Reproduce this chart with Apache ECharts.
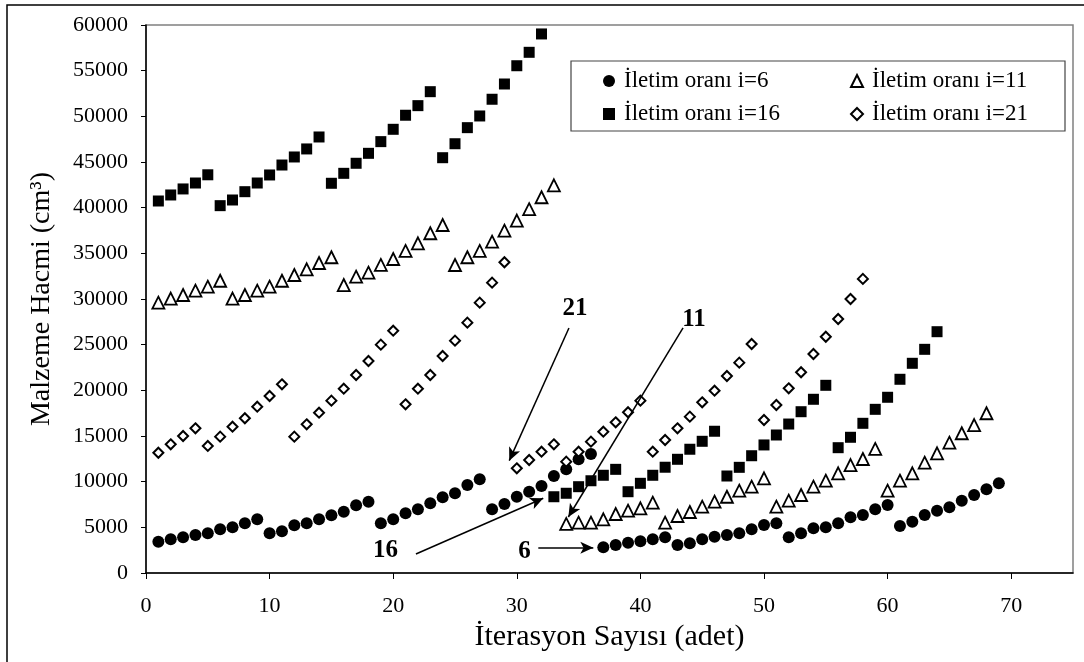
<!DOCTYPE html>
<html>
<head>
<meta charset="utf-8">
<script src="https://cdn.jsdelivr.net/npm/echarts@6/dist/echarts.min.js"></script>
<style>
  html, body { margin: 0; padding: 0; background: #fff; }
  #chart { width: 1084px; height: 662px; }
</style>
</head>
<body>
<div id="chart"></div>
<script>
// Malzeme hacmi (cm3) for each iteration step; iteration number = position in list + 1
const vol_i6 = [
  3430, 3690, 3910, 4160, 4350, 4780, 5000, 5440, 5880,
  4350, 4570, 5220, 5440, 5880, 6320, 6710, 7410, 7810,
  5440, 5880, 6540, 6970, 7630, 8290, 8730, 9640, 10260,
  6970, 7550, 8350, 8900, 9530, 10620, 11350, 12450, 13030,
  2810, 3070, 3320, 3470, 3690, 3910,
  3070, 3250, 3690, 3980, 4160, 4350, 4780, 5260, 5440,
  3910, 4350, 4890, 5000, 5440, 6100, 6350, 6970, 7450,
  5150, 5620, 6350, 6820, 7190, 7920, 8540, 9160, 9820
];
const vol_i11 = [
  29600, 30040, 30440, 30910, 31350, 32000,
  30040, 30440, 30910, 31350, 32000, 32630, 33250, 33940, 34570,
  31530, 32440, 32880, 33730, 34380, 35260, 36100, 37200, 38100,
  33720, 34570, 35260, 36280, 37480, 38580, 39830, 41140, 42450,
  5370, 5510, 5510, 5880, 6460, 6820, 7080, 7700,
  5510, 6240, 6680, 7260, 7810, 8350, 9010, 9450, 10370,
  7260, 7920, 8540, 9450, 10110, 10910, 11820, 12480, 13580,
  9010, 10110, 10910, 12080, 13100, 14270, 15300, 16200, 17490
];
const vol_i16 = [
  40730, 41390, 42050, 42700, 43600,
  40220, 40840, 41750, 42700, 43580, 44670, 45550, 46430, 47740,
  42670, 43760, 44860, 45950, 47230, 48580, 50120, 51170, 52700,
  45470, 47000, 48760, 50040, 51870, 53540, 55540, 57010, 59020,
  8350, 8730, 9450, 10100, 10700, 11350,
  8900, 9820, 10700, 11580, 12450, 13550, 14420, 15520,
  10620, 11570, 12840, 14020, 15110, 16310, 17660, 19020, 20550,
  13720, 14860, 16390, 17920, 19240, 21210, 22960, 24490, 26420
];
const vol_i21 = [
  13170, 14090, 15000, 15840,
  13910, 14930, 16020, 16940, 18210, 19380, 20660,
  14930, 16280, 17550, 18870, 20180, 21680, 23210, 25000, 26530,
  18470, 20180, 21680, 23760, 25440, 27410, 29600, 31790, 34020,
  11460, 12370, 13280, 14090,
  12190, 13280, 14380, 15470, 16500, 17600, 18870,
  13280, 14560, 15840, 17120, 18690, 19960, 21570, 23030, 25070,
  16750, 18390, 20220, 21980, 23980, 25870, 27810, 30000, 32200
];

const seriesNames = ['İletim oranı i=6', 'İletim oranı i=11', 'İletim oranı i=16', 'İletim oranı i=21'];
const xTicks = [0, 10, 20, 30, 40, 50, 60, 70];

// Callout labels: text position, arrow start, arrow tip (iteration, volume)
const callouts = [
  { text: '21', at: [34.7, 29000], from: [34.22, 26830], to: [29.39, 12300] },
  { text: '11', at: [44.34, 27700], from: [43.45, 26830], to: [34.17, 6130] },
  { text: '16', at: [19.38, 2410], from: [21.84, 2080], to: [32.14, 8180] },
  { text: '6', at: [30.62, 2350], from: [31.74, 2770], to: [36.19, 2770] }
];

const FONT = "'Liberation Serif', 'Times New Roman', serif";
const toPoints = arr => arr.map((v, i) => [i + 1, v]);

const chart = echarts.init(document.getElementById('chart'), null, { renderer: 'canvas' });

const legendText = { fontFamily: FONT, fontSize: 23, color: '#000', lineHeight: 24, padding: [0, 0, 0, 4] };

const option = {
  backgroundColor: '#fff',
  animation: false,
  textStyle: { fontFamily: FONT },
  grid: {
    left: 146, right: 11, top: 25, bottom: 89,
    show: true, borderColor: '#808080', borderWidth: 1.5
  },
  legend: [
    {
      left: 603, top: 69, orient: 'vertical', itemGap: 9, padding: 0,
      itemWidth: 12, itemHeight: 12,
      data: [seriesNames[0], seriesNames[2]],
      textStyle: legendText
    },
    {
      left: 850, top: 69, orient: 'vertical', itemGap: 9, padding: 0,
      itemWidth: 12, itemHeight: 12,
      data: [seriesNames[1], seriesNames[3]],
      textStyle: legendText
    }
  ],
  xAxis: {
    type: 'value', min: 0, max: 75,
    name: 'İterasyon Sayısı (adet)', nameLocation: 'middle', nameGap: 49,
    nameTextStyle: { fontFamily: FONT, fontSize: 30, color: '#000' },
    axisLine: { show: true, lineStyle: { color: '#000', width: 1.5 } },
    axisTick: { show: true, length: 6, inside: false, lineStyle: { color: '#000' }, customValues: xTicks },
    axisLabel: { fontFamily: FONT, fontSize: 22, color: '#000', margin: 22, customValues: xTicks },
    splitLine: { show: false }
  },
  yAxis: {
    type: 'value', min: 0, max: 60000, interval: 5000,
    name: 'Malzeme Hacmi (cm³)', nameLocation: 'middle', nameGap: 90,
    nameTextStyle: { fontFamily: FONT, fontSize: 28, color: '#000' },
    axisLine: { show: true, lineStyle: { color: '#000', width: 1.5 } },
    axisTick: { show: true, length: 5, inside: false, lineStyle: { color: '#000' } },
    axisLabel: { fontFamily: FONT, fontSize: 22, color: '#000', margin: 18, formatter: v => String(v) },
    splitLine: { show: false }
  },
  series: [
    {
      name: seriesNames[0], type: 'scatter', symbol: 'circle', symbolSize: 12,
      itemStyle: { color: '#000', opacity: 1 },
      data: toPoints(vol_i6),
      markLine: {
        silent: true, symbol: ['none', 'arrow'], symbolSize: [9, 13],
        label: { show: false },
        lineStyle: { color: '#000', width: 1.5, type: 'solid' },
        data: callouts.map(c => [{ coord: c.from }, { coord: c.to }])
      }
    },
    {
      name: seriesNames[1], type: 'scatter', symbol: 'triangle', symbolSize: 12,
      itemStyle: { color: '#fff', borderColor: '#000', borderWidth: 1.8, opacity: 1 },
      data: toPoints(vol_i11)
    },
    {
      name: seriesNames[2], type: 'scatter', symbol: 'rect', symbolSize: 11,
      itemStyle: { color: '#000', opacity: 1 },
      data: toPoints(vol_i16)
    },
    {
      name: seriesNames[3], type: 'scatter', symbol: 'diamond', symbolSize: 10,
      itemStyle: { color: '#fff', borderColor: '#000', borderWidth: 2, opacity: 1 },
      data: toPoints(vol_i21)
    }
  ]
};

chart.setOption(option);

// Frame, legend box and callout numbers
const graphics = [
  {
    type: 'rect', silent: true, z: 0,
    shape: { x: 7, y: 5, width: 1100, height: 700 },
    style: { fill: 'none', stroke: '#000', lineWidth: 1.5 }
  },
  {
    type: 'rect', silent: true, z: 1,
    shape: { x: 571, y: 61, width: 494, height: 70 },
    style: { fill: '#fff', stroke: '#444', lineWidth: 1.2 }
  }
];
callouts.forEach(c => {
  const p = chart.convertToPixel({ gridIndex: 0 }, c.at);
  graphics.push({
    type: 'text', silent: true, z: 10,
    x: p[0], y: p[1],
    style: {
      text: c.text, fill: '#000', align: 'center', verticalAlign: 'middle',
      font: "bold 25px 'Liberation Serif', 'Times New Roman', serif"
    }
  });
});
chart.setOption({ graphic: graphics });
</script>
</body>
</html>
